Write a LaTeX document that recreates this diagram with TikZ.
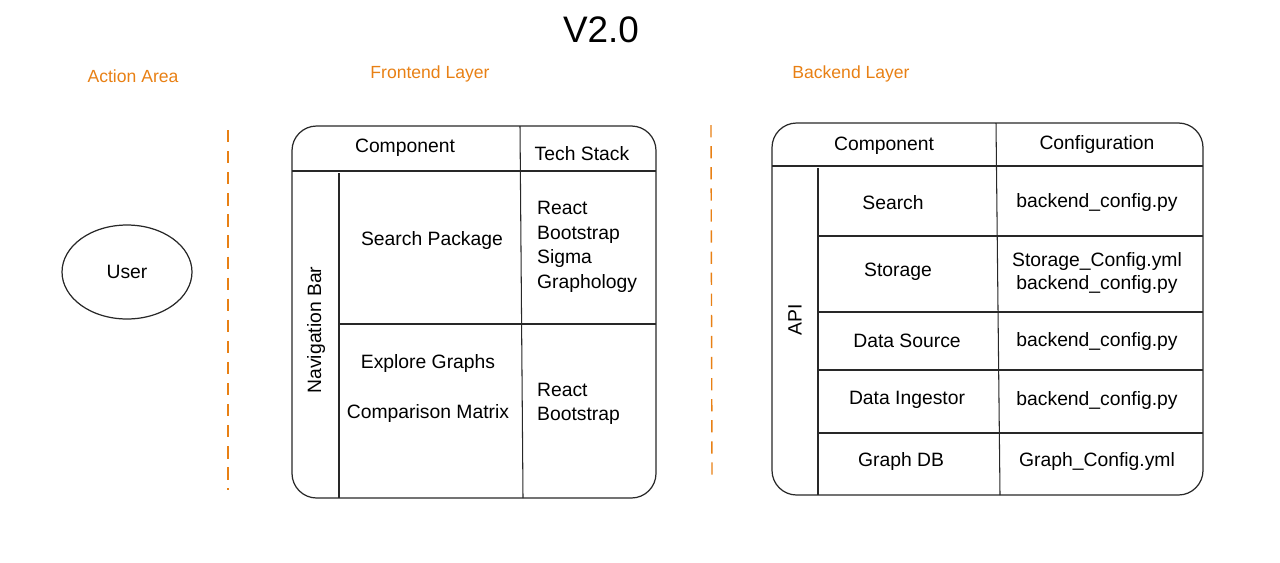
\documentclass[tikz,border=0pt]{standalone}
\usepackage{fontspec}
\setmainfont{Liberation Sans}
\usetikzlibrary{positioning,calc,shapes.geometric}
\definecolor{layerorange}{RGB}{232,128,20}
\definecolor{inkgray}{RGB}{40,40,40}
\tikzset{
  every picture/.style={font=\fontsize{11}{13}\selectfont},
  layer/.style={text=layerorange,font=\fontsize{10}{12}\selectfont},
  divider/.style={layerorange,line width=0.8pt,dash pattern=on 7pt off 5pt},
  frame/.style={draw=inkgray,line width=0.7pt,rounded corners=14pt},
  rule/.style={draw=inkgray,line width=0.6pt},
  cell/.style={text=black,inner sep=1pt},
  stack/.style={cell,align=left,anchor=west,font=\fontsize{11}{14}\selectfont},
}

\begin{document}
\begin{tikzpicture}[x=0.02cm,y=-0.02cm]
  \useasboundingbox (0,0) rectangle (1280,562);
  \node[font=\fontsize{21}{24}\selectfont] (title) at (601,30) {V2.0};

  % column headings and dashed separators
  \node[layer] (actionhd) at (133,76) {Action Area};
  \node[layer] (fronthd) at (430,74) {Frontend Layer};
  \node[layer] (backhd) at (851,74) {Backend Layer};
  \draw[divider] (228,130) -- (228,490);
  \draw[divider] (711,125) -- (712,482);

  \node[draw=inkgray,line width=0.7pt,ellipse,minimum width=2.6cm,minimum height=1.88cm] (user) at (127,272) {User};

  % frontend table
  \draw[frame] (292,126) rectangle (656,498);
  \draw[rule] (292,171) -- (656,171);
  \draw[rule] (520,126) -- (523,498);
  \draw[rule] (339,173) -- (339,498);
  \draw[rule] (339,324) -- (656,324);
  \node[cell] (fcomp) at (405,148) {Component};
  \node[cell] (ftech) at (582,154) {Tech Stack};
  \node[cell,rotate=90] (navbar) at (316,330) {Navigation Bar};
  \node[cell] (search) at (432,240) {Search Package};
  \node[stack] (stackA) at (535,247) {React\\Bootstrap\\Sigma\\Graphology};
  \node[cell] (explore) at (428,363) {Explore Graphs};
  \node[cell] (compare) at (428,413) {Comparison Matrix};
  \node[stack] (stackB) at (535,404) {React\\Bootstrap};

  % backend table
  \draw[frame] (772,123) rectangle (1203,495);
  \draw[rule] (772,166) -- (1203,166);
  \draw[rule] (996,123) -- (1000,495);
  \draw[rule] (818,168) -- (818,495);
  \foreach \y in {236,312,370,433}
    \draw[rule] (818,\y) -- (1203,\y);
  \node[cell] (bcomp) at (884,146) {Component};
  \node[cell] (bconf) at (1097,144) {Configuration};
  \node[cell,rotate=90] (api) at (795,320) {API};
  \node[cell] (bsearch) at (893,203) {Search};
  \node[cell] (csearch) at (1097,202) {backend\_config.py};
  \node[cell] (bstore) at (898,272) {Storage};
  \node[cell,align=center,font=\fontsize{11}{13.5}\selectfont] (cstore) at (1097,273) {Storage\_Config.yml\\backend\_config.py};
  \node[cell] (bsource) at (907,341) {Data Source};
  \node[cell] (csource) at (1097,341) {backend\_config.py};
  \node[cell] (bingest) at (907,400) {Data Ingestor};
  \node[cell] (cingest) at (1097,400) {backend\_config.py};
  \node[cell] (bgraph) at (901,461) {Graph DB};
  \node[cell] (cgraph) at (1097,461) {Graph\_Config.yml};
\end{tikzpicture}
\end{document}
